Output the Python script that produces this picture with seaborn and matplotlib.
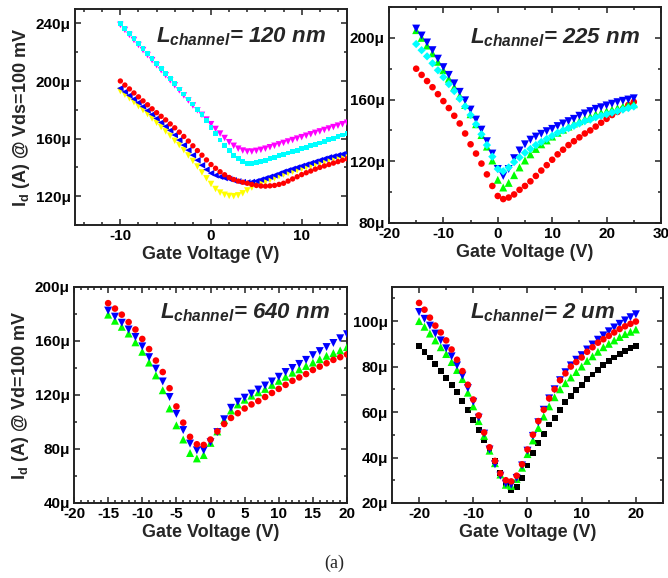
import numpy as np
import matplotlib
matplotlib.use("Agg")
import matplotlib.pyplot as plt
from matplotlib.ticker import MultipleLocator, FuncFormatter
import seaborn as sns

# ── Data (drain current in uA) ──────────────────────────────────────────────
# 120 nm channel, Vg = -10 .. 15 V in 0.5 V steps
VG_120 = np.arange(-10, 15.01, 0.5)
MAG_120 = [239, 235.5, 232, 228.5, 225, 221.5, 218, 214.5, 211, 207.5, 204, 200.5, 197, 193.5,
           190, 186.5, 183, 179.7, 176.5, 173.2, 170, 166.7, 163.5, 160.4, 157.5, 155, 153, 151.7,
           151, 151, 151.5, 152.2, 153, 154, 155, 156, 157, 158, 159, 160, 161, 162, 163, 164,
           165, 166, 167, 168, 169, 170, 171]
CYAN_120 = [240, 236.5, 233, 229.5, 226, 222.5, 219, 215.5, 212, 208.5, 205, 201.5, 198, 194.5,
            191, 187.5, 184, 180.5, 176.5, 172.5, 168, 163.5, 159, 155, 151.5, 148.5, 146, 144.2,
            143, 143, 143.5, 144.2, 145, 146, 147, 148, 149, 150, 151, 152, 153, 154, 155, 156,
            157, 158, 159.2, 160.3, 161.4, 162.5, 163.5]
RED_120 = [200, 197.2, 194.5, 191.7, 189, 186.2, 183.5, 180.7, 178, 175.5, 173, 170.2, 167.5, 164.5,
           161.5, 158.3, 155, 151.7, 148.5, 145.2, 142, 139.4, 137, 134.9, 133, 131.6, 130.5, 129.7,
           129, 128.2, 127.5, 127.1, 127, 127.2, 127.5, 128.2, 129, 130.5, 132, 133.5, 135, 136.3,
           137.5, 138.8, 140, 141, 142, 143, 144, 145, 146]
BLUE_120 = [195, 192.5, 190, 187.5, 185, 182.3, 179.5, 176.8, 174, 171.2, 168.5, 165.7, 162.5, 159,
            155.5, 152, 148.5, 145, 141.5, 138.5, 136, 134.5, 133.5, 132.6, 132, 131, 130.3, 129.8,
            129.6, 129.9, 130.5, 131.5, 132.5, 133.5, 134.5, 135.7, 137, 138, 139, 140, 141, 142,
            143, 144, 145, 146, 147, 147.7, 148.5, 149.2, 150]
YEL_120 = [193, 190.5, 188, 185.3, 182.5, 179.8, 177, 174, 171, 168, 165, 162, 158.5, 155.5,
           152, 148.3, 144.5, 140.6, 136.5, 132.4, 128.5, 125, 122.5, 121, 120.2, 120, 120.6, 122,
           124, 126, 127.5, 128.8, 130, 131.3, 132.5, 133.8, 135, 136, 137, 138, 139, 140,
           141, 142, 143, 144, 145, 145.8, 146.5, 147.2, 148]

# 225 nm channel, Vg = -15 .. 25 V
VG_225 = np.arange(-15, 26, 1)
RED_225 = [180, 176, 172, 168, 163.5, 159, 154.5, 149.5, 144.5, 138, 131, 125, 118.5, 111.5, 104,
           97.5, 95.5, 96.5, 98.5, 101.5, 104, 107, 110.5, 114, 117.5, 121, 124.5, 127.5, 130.5,
           133, 135.5, 138, 140, 142.5, 145, 147.5, 150, 152, 154, 156.5, 158.5]
GRN_225 = [205, 200, 195, 190, 184.5, 179, 173.5, 168, 162.5, 156.5, 150.5, 144, 137, 129.5, 120.5,
           108, 103, 106, 111, 116, 120.5, 124.5, 128, 131, 133.5, 136, 138.5, 140.5, 142.5,
           144.5, 146, 147.5, 149, 150.5, 151.5, 152.5, 153.5, 154.5, 155.5, 156.5, 157]
BLUE_225 = [206, 201.5, 197, 192, 186.5, 181, 176, 170.5, 165, 159.5, 153.5, 147, 140.5, 133, 125,
            115, 110.5, 115, 122, 127, 131, 134, 136, 137.8, 139.5, 141, 142.8, 144.5, 146,
            147.5, 149.5, 151, 152.5, 154, 155, 156.2, 157.3, 158.3, 159.2, 160, 160.8]
CYAN_225 = [196, 192, 188, 183.5, 179, 174.5, 170, 165.5, 160.5, 155.5, 150, 144, 137.5, 130.5, 123,
            115, 113.5, 116, 119.5, 122.5, 125.5, 128, 130.5, 132.5, 134.5, 136.5, 138.5, 140,
            141.5, 143, 144.5, 146, 147, 148.5, 149.5, 150.5, 151.5, 152.5, 153.5, 154.5, 155.5]

# 640 nm channel, Vg = -15 .. 20 V
VG_640 = np.arange(-15, 21, 1)
GRN_640 = [179.5, 175, 170.5, 165.5, 159, 152, 144, 134.5, 123.5, 110, 97.5, 87, 77, 73, 75.5,
           84.5, 93, 101.5, 108.5, 113, 116.5, 119.5, 122, 124.5, 127.5, 130.5, 133.5, 136.5,
           139, 141.5, 144, 146.5, 149, 151, 153, 155.5]
BLUE_640 = [182.5, 178, 173.5, 168.5, 163, 156, 148, 139.5, 130, 118.5, 106, 94, 84, 79, 79,
            85, 92.5, 102, 110.5, 115, 118, 121, 124, 127, 130, 133.5, 137, 140, 143, 146,
            149.5, 152.5, 155.5, 158.5, 162, 165]
RED_640 = [188, 184, 179.5, 174, 168.5, 161.5, 154, 145.5, 137, 125, 111.5, 99.5, 89, 83.5, 83,
           87, 93, 98.5, 103, 106.5, 110, 113, 115.5, 118.5, 121.5, 124.5, 127.5, 130.5, 133,
           135.5, 138.5, 141, 143.5, 146, 148, 150]

# 2 um channel, Vg = -20 .. 20 V
VG_2U = np.arange(-20, 21, 1)
BLK_2U = [89, 86.5, 84, 81, 78, 75, 72, 69, 65, 61, 56.5, 52, 47.5, 43, 38.5, 33, 28, 25.5, 27, 31,
          36.5, 42, 46.5, 50.5, 54.5, 57.5, 61, 64.5, 67, 69.5, 72, 74.5, 76.5, 78.5, 80.5, 82.5,
          84, 85.5, 87, 88, 89]
GRN_2U = [100, 97.5, 94.5, 91.5, 88.5, 85.5, 82, 78.5, 74.5, 68.5, 62.5, 56, 49.5, 43, 37.5, 32.5,
          28, 27.5, 30.5, 35.5, 41.5, 47.5, 53, 58, 62.5, 66.5, 70, 72.7, 75.2, 77.6, 80, 82.5,
          84.5, 86.5, 88.5, 90, 91.5, 93, 94.3, 95.3, 96.3]
BLUE_2U = [104, 101, 98, 94.5, 91.5, 88, 84.5, 80.5, 76, 70.5, 64.5, 57.5, 50.5, 43.5, 37, 32,
           28.5, 28, 31, 36.5, 43, 49.5, 55.5, 61, 66, 70, 74, 77.5, 80.5, 83, 85, 87.5, 89.7,
           91.8, 93.7, 95.5, 97.2, 98.8, 100.3, 101.7, 103]
RED_2U = [108, 105, 101.5, 98, 95, 91.5, 87.5, 83, 78, 72, 65.5, 58.5, 51, 44.5, 38.5, 33, 30,
          29.5, 32, 37, 43.5, 50, 56, 61, 66, 70, 74, 77, 80, 82, 84, 86.5, 88.5, 90.5, 92,
          93.5, 95, 96.5, 97.7, 98.8, 99.8]

PANELS = [
    {"x": VG_120, "series": [(MAG_120, "#ff00ff", "v"), (CYAN_120, "#00ffff", "s"),
                             (YEL_120, "#ffff00", "v"), (BLUE_120, "#0000ff", "<"),
                             (RED_120, "#ff0000", "o")],
     "xlim": (-15, 15), "ylim": (100, 250), "xmaj": 10, "xmin": 2, "ymaj": 40, "ymin": 20,
     "label": "= 120 nm", "ylabel": r"I$_\mathrm{d}$ (A) @ Vds=100 mV", "tpos": (0.61, 0.87),
     "msize": 1.0},
    {"x": VG_225, "series": [(RED_225, "#ff0000", "o"), (GRN_225, "#00ff00", "^"),
                             (BLUE_225, "#0000ff", "v"), (CYAN_225, "#00ffff", "D")],
     "xlim": (-20, 30), "ylim": (80, 220), "xmaj": 10, "xmin": 5, "ymaj": 40, "ymin": 20,
     "label": "= 225 nm", "ylabel": None, "tpos": (0.61, 0.86), "msize": 1.5},
    {"x": VG_640, "series": [(GRN_640, "#00ff00", "^"), (BLUE_640, "#0000ff", "v"),
                             (RED_640, "#ff0000", "o")],
     "xlim": (-20, 20), "ylim": (40, 200), "xmaj": 5, "xmin": 1, "ymaj": 40, "ymin": 20,
     "label": "= 640 nm", "ylabel": r"I$_\mathrm{d}$ (A) @ Vd=100 mV", "tpos": (0.625, 0.88),
     "msize": 1.5},
    {"x": VG_2U, "series": [(BLK_2U, "#000000", "s"), (GRN_2U, "#00ff00", "^"),
                            (BLUE_2U, "#0000ff", "v"), (RED_2U, "#ff0000", "o")],
     "xlim": (-25, 25), "ylim": (20, 115), "xmaj": 10, "xmin": 5, "ymaj": 20, "ymin": 10,
     "label": "= 2 um", "ylabel": None, "tpos": (0.555, 0.88), "msize": 1.5},
]

# axes rectangles in figure fractions (left, bottom, width, height)
RECTS = [
    (0.1123, 0.6107, 0.4072, 0.3737),
    (0.5823, 0.6142, 0.4072, 0.3737),
    (0.1108, 0.1298, 0.4087, 0.3737),
    (0.5868, 0.1298, 0.4057, 0.3737),
]

sns.set_theme(style="ticks")
plt.rcParams["font.family"] = ["Liberation Sans", "DejaVu Sans"]
plt.rcParams["font.weight"] = "bold"
plt.rcParams["axes.unicode_minus"] = False
plt.rcParams["mathtext.fontset"] = "custom"
plt.rcParams["mathtext.it"] = "Liberation Sans:bold:italic"
plt.rcParams["mathtext.rm"] = "Liberation Sans:bold"
plt.rcParams["mathtext.bf"] = "Liberation Sans:bold"

fig = plt.figure(figsize=(6.68, 5.78), dpi=100)

for cfg, rect in zip(PANELS, RECTS):
    ax = fig.add_axes(rect)
    for vals, col, mk in cfg["series"]:
        base = {"o": 15, "s": 12, "D": 12}.get(mk, 22)
        sns.scatterplot(x=cfg["x"], y=vals, color=col, marker=mk, s=base * cfg["msize"],
                        linewidth=0, edgecolor="none", ax=ax, zorder=3)
    ax.set_xlim(*cfg["xlim"])
    ax.set_ylim(*cfg["ylim"])
    ax.xaxis.set_major_locator(MultipleLocator(cfg["xmaj"]))
    ax.xaxis.set_minor_locator(MultipleLocator(cfg["xmin"]))
    ax.yaxis.set_major_locator(MultipleLocator(cfg["ymaj"]))
    ax.yaxis.set_minor_locator(MultipleLocator(cfg["ymin"]))
    ax.yaxis.set_major_formatter(FuncFormatter(lambda v, p: f"{v:.0f}\u03bc"))
    ax.tick_params(which="both", direction="in", top=True, right=True,
                   labelsize=11, width=1.1, colors="#222222", labelcolor="black", pad=3)
    ax.tick_params(which="major", length=4)
    ax.tick_params(which="minor", length=2.2)
    for lbl in ax.get_xticklabels() + ax.get_yticklabels():
        lbl.set_fontweight("bold")
    for sp in ax.spines.values():
        sp.set_linewidth(1.4)
        sp.set_color("#222222")
    ax.set_xlabel("Gate Voltage (V)", fontsize=13, fontweight="bold", labelpad=2)
    if cfg["ylabel"]:
        ax.set_ylabel(cfg["ylabel"], fontsize=13, fontweight="bold", labelpad=3)
    else:
        ax.set_ylabel("")
    ax.text(*cfg["tpos"], r"$L_{channel}$" + cfg["label"], transform=ax.transAxes,
            ha="center", va="center", fontsize=16, fontweight="bold", fontstyle="italic")

fig.text(0.5, 1 - 563 / 578, "(a)", family="Liberation Serif", fontweight="normal",
         fontsize=13, ha="center", va="center")

fig.savefig("out.png", dpi=100)
plt.close(fig)
